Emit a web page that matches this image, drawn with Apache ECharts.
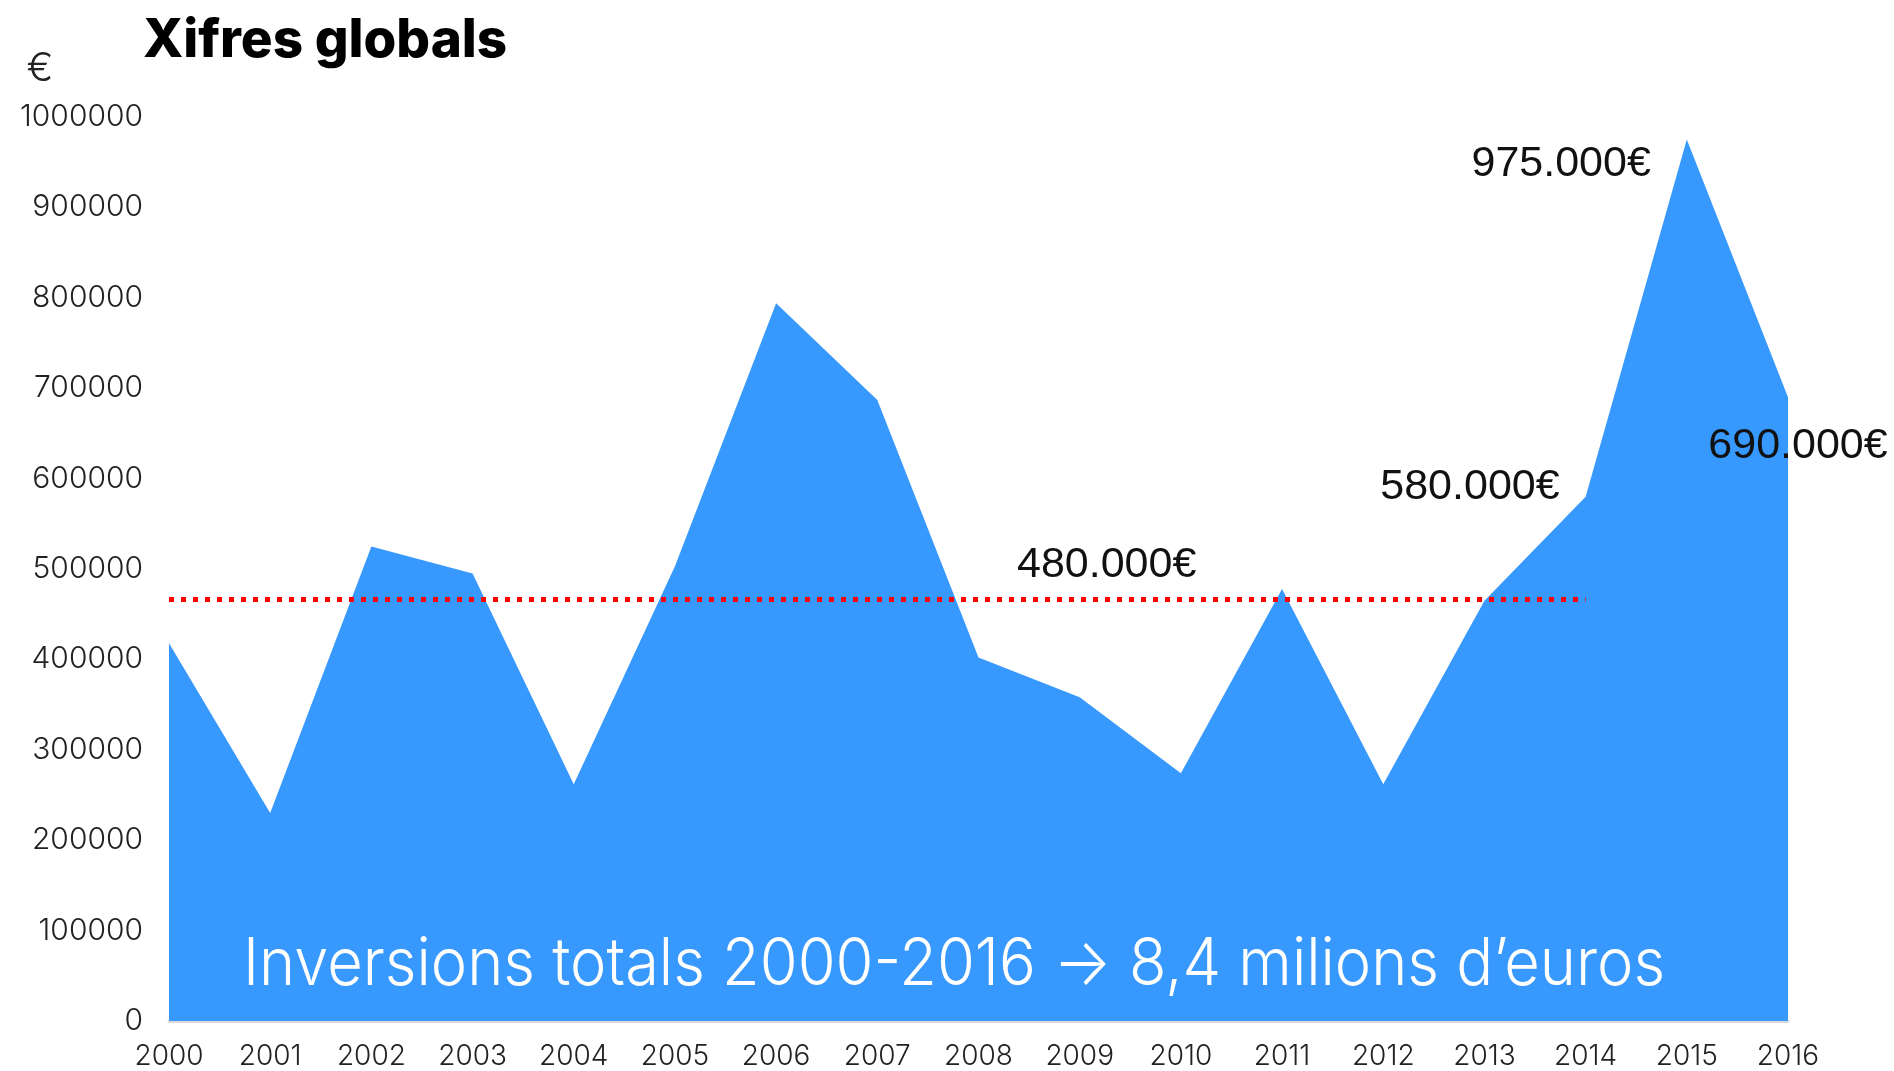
<!DOCTYPE html>
<html>
<head>
<meta charset="utf-8">
<script src="https://cdn.jsdelivr.net/npm/echarts@6/dist/echarts.min.js"></script>
<style>
html,body{margin:0;padding:0;background:#fff;}
#main{width:1894px;height:1071px;}
</style>
</head>
<body>
<div id="main"></div>
<script>
var years = ['2000','2001','2002','2003','2004','2005','2006','2007','2008','2009','2010','2011','2012','2013','2014','2015','2016'];
var investment = [418000,230000,525000,495000,262000,503000,794000,687000,402000,358000,274000,478000,262000,465000,580000,975000,690000];
var averageValue = 467000;
var averageFrom = '2000';
var averageTo = '2014';
var averageLabel = '480.000€';
var calloutYears = ['2015','2014','2016'];
var calloutLabels = ['975.000€','580.000€','690.000€'];
var titleText = 'Xifres globals';
var unitText = '€';
var totalText = 'Inversions totals 2000-2016 \u2192 8,4 milions d\u2019euros';

var chart = echarts.init(document.getElementById('main'));
function valOf(y){ return investment[years.indexOf(y)]; }

var calloutStyle = {fontFamily:'Liberation Sans', fontSize:43, color:'#111'};
var option = {
  animation:false,
  backgroundColor:'#fff',
  title:{
    text:titleText, left:138, top:10,
    textStyle:{fontFamily:'Inter', fontWeight:800, fontSize:53, color:'#000'}
  },
  grid:{left:169, right:106, top:117, bottom:47},
  xAxis:{
    type:'category', data:years, boundaryGap:false,
    axisLine:{show:true, lineStyle:{color:'#d9d9d9', width:3}},
    axisTick:{show:false},
    axisLabel:{margin:22, fontFamily:'Inter', fontWeight:300, fontSize:28, color:'#222'}
  },
  yAxis:{
    type:'value', min:0, max:1000000, interval:100000,
    axisLine:{show:false}, axisTick:{show:false}, splitLine:{show:false},
    axisLabel:{margin:26, fontFamily:'Inter', fontWeight:300, fontSize:30, color:'#222', padding:[10,0,0,0],
      formatter:function(v){ return String(v); }}
  },
  graphic:[
    {type:'text', x:40, y:69, style:{text:unitText, fill:'#222', font:'300 40px Inter', align:'center', verticalAlign:'middle'}},
    {type:'text', x:243, y:965, scaleX:0.93, z:100, style:{text:totalText, fill:'#fff', font:'300 66px Inter', align:'left', verticalAlign:'middle'}}
  ],
  series:[{
    type:'line', data:investment, showSymbol:false, smooth:false,
    lineStyle:{width:0}, areaStyle:{color:'#3798fe', opacity:1}, itemStyle:{color:'#3798fe'},
    markLine:{
      silent:true, symbol:'none', label:{show:false},
      lineStyle:{color:'#ff0000', width:5, type:[5,7]},
      data:[[{coord:[averageFrom, averageValue]},{coord:[averageTo, averageValue]}]]
    },
    markPoint:{
      silent:true, symbol:'circle', symbolSize:0,
      data:[
        {coord:[calloutYears[0], valOf(calloutYears[0])], label:Object.assign({show:true, formatter:calloutLabels[0], position:'inside', align:'right', verticalAlign:'middle', offset:[-36,25]}, calloutStyle)},
        {coord:[calloutYears[1], valOf(calloutYears[1])], label:Object.assign({show:true, formatter:calloutLabels[1], position:'inside', align:'right', verticalAlign:'middle', offset:[-26,-10]}, calloutStyle)},
        {coord:[calloutYears[2], valOf(calloutYears[2])], label:Object.assign({show:true, formatter:calloutLabels[2], position:'inside', align:'center', verticalAlign:'middle', offset:[10,49]}, calloutStyle)},
        {coord:['2009', averageValue], label:Object.assign({show:true, formatter:averageLabel, position:'inside', align:'center', verticalAlign:'middle', offset:[27,-34]}, calloutStyle)}
      ]
    }
  }]
};
chart.setOption(option);
</script>
</body>
</html>
